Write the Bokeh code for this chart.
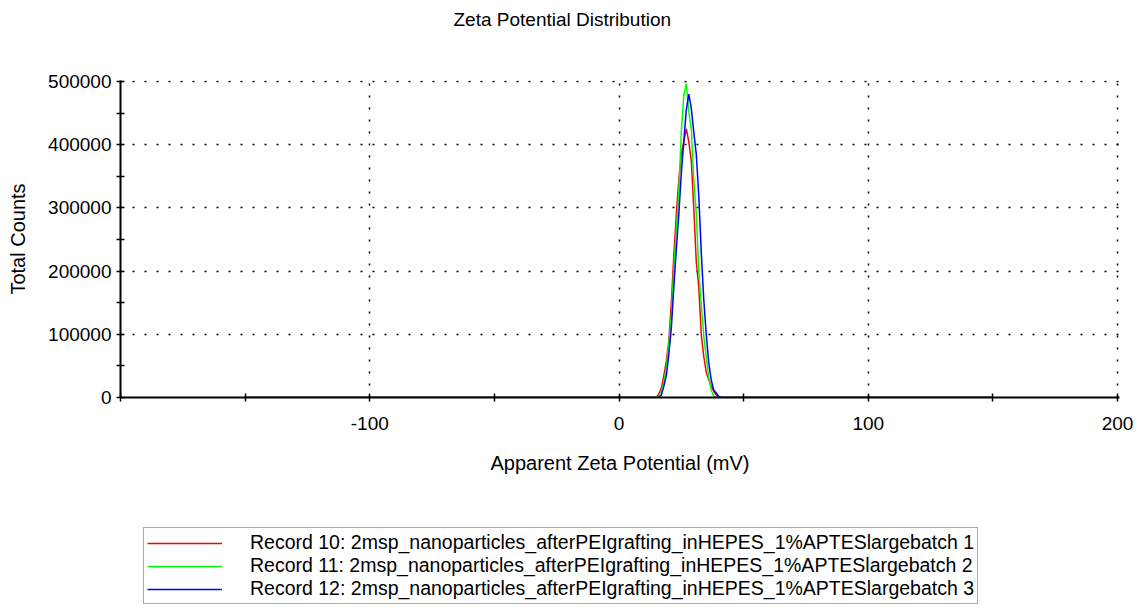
from bokeh.plotting import figure
from bokeh.models import Range1d, FixedTicker, Legend, LegendItem, Title
from bokeh.layouts import column
from bokeh.embed import file_html
from bokeh.resources import INLINE

title_text = "Zeta Potential Distribution"
x_label = "Apparent Zeta Potential (mV)"
y_label = "Total Counts"

x_major = [-200, -100, 0, 100, 200]
x_major_labels = ["", "-100", "0", "100", "200"]
x_minor = [-150, -50, 50, 150]
y_major = [0, 100000, 200000, 300000, 400000, 500000]
y_major_labels = ["0", "100000", "200000", "300000", "400000", "500000"]
y_minor = [50000, 150000, 250000, 350000, 450000]

zeta_mv = [-150, 14, 15, 16, 17, 18, 19, 20, 21, 22, 23, 24, 25, 26, 27, 28,
           29, 30, 31, 32, 33, 34, 35, 36, 37, 38, 39, 40, 41, 42, 150]

record10 = [0, 0, 0, 6000, 15000, 35000, 58000, 90000, 150000, 225000, 290000,
            345000, 385000, 405000, 425000, 405000, 375000, 300000, 215000,
            175000, 100000, 65000, 40000, 28000, 18000, 10000, 4000, 0, 0, 0, 0]
record11 = [0, 0, 0, 2000, 9000, 24000, 48000, 85000, 130000, 205000, 265000,
            325000, 420000, 478000, 497000, 452000, 425000, 345000, 292000,
            200000, 148000, 98000, 64000, 32000, 12000, 2000, 0, 0, 0, 0, 0]
record12 = [0, 0, 0, 0, 4000, 18000, 35000, 68000, 110000, 175000, 235000,
            290000, 355000, 405000, 455000, 480000, 458000, 420000, 385000,
            320000, 230000, 155000, 100000, 55000, 28000, 12000, 7000, 2000, 0, 0, 0]

series_names = [
    "Record 10: 2msp_nanoparticles_afterPEIgrafting_inHEPES_1%APTESlargebatch 1",
    "Record 11: 2msp_nanoparticles_afterPEIgrafting_inHEPES_1%APTESlargebatch 2",
    "Record 12: 2msp_nanoparticles_afterPEIgrafting_inHEPES_1%APTESlargebatch 3",
]
series_values = [record10, record11, record12]
series_colors = ["#FF0000", "#00FF00", "#0000FF"]

FONT = "Liberation Sans"

# ---------------- main chart ----------------
p = figure(width=1143, height=520, output_backend="svg", toolbar_location=None,
           x_range=Range1d(-200, 200.8), y_range=Range1d(0, 501600),
           min_border_left=120, min_border_right=24, min_border_top=80,
           min_border_bottom=123, title=None)
p.outline_line_color = None
p.background_fill_color = "white"
p.border_fill_color = "white"

# spacer (nearest the frame) then the real title above it
p.add_layout(Title(text=" ", text_font_size="44px", standoff=0), "above")
p.add_layout(Title(text=title_text, text_font=FONT, text_font_size="19px",
                   text_font_style="normal", text_color="black",
                   align="left", offset=333, standoff=0), "above")

for ax, maj, mnr, labs in ((p.xaxis[0], x_major, x_minor, x_major_labels),
                           (p.yaxis[0], y_major, y_minor, y_major_labels)):
    ax.ticker = FixedTicker(ticks=maj, minor_ticks=mnr)
    ax.major_label_overrides = {t: s for t, s in zip(maj, labs)}
    ax.axis_line_color = "black"
    ax.axis_line_width = 2
    ax.major_tick_line_color = "black"
    ax.minor_tick_line_color = "black"
    ax.major_tick_line_width = 1.5
    ax.minor_tick_line_width = 1.5
    ax.major_tick_in = 4
    ax.major_tick_out = 4
    ax.minor_tick_in = 4
    ax.minor_tick_out = 4
    ax.major_label_text_font = FONT
    ax.major_label_text_font_size = "19px"
    ax.major_label_text_color = "black"
    ax.axis_label_text_font = FONT
    ax.axis_label_text_font_size = "20px"
    ax.axis_label_text_font_style = "normal"
    ax.axis_label_text_color = "black"

p.xaxis.axis_label = x_label
p.yaxis.axis_label = y_label
p.xaxis.major_label_standoff = 15
p.xaxis.axis_label_standoff = 19
p.yaxis.major_label_standoff = 5
p.yaxis.axis_label_standoff = 16
p.yaxis.major_label_orientation = "horizontal"

for g in (p.xgrid[0], p.ygrid[0]):
    g.grid_line_color = "black"
    g.grid_line_dash = "2 10"
    g.grid_line_width = 1.5
p.xgrid.ticker = FixedTicker(ticks=x_major)
p.ygrid.ticker = FixedTicker(ticks=y_major)

for vals, col in zip(series_values, series_colors):
    p.line(zeta_mv, vals, line_color=col, line_width=1.5)

# ---------------- legend strip (same series, legend only) ----------------
q = figure(width=1143, height=90, output_backend="svg", toolbar_location=None,
           x_range=Range1d(-200, 200), y_range=Range1d(-20, -10),
           min_border=0, x_axis_type=None, y_axis_type=None)
q.outline_line_color = None
q.grid.visible = False
q.background_fill_color = "white"
q.border_fill_color = "white"

items = []
for name, vals, col in zip(series_names, series_values, series_colors):
    r = q.line(zeta_mv, vals, line_color=col, line_width=1.5)
    items.append(LegendItem(label=name, renderers=[r]))

legend = Legend(items=items, location=(23, 6))
legend.label_text_font = FONT
legend.label_text_font_size = "19.5px"
legend.label_text_color = "black"
legend.glyph_width = 75
legend.glyph_height = 20
legend.label_height = 20
legend.label_standoff = 28
legend.spacing = 0
legend.padding = 3
legend.margin = 0
legend.border_line_color = "#555555"
legend.border_line_width = 1
legend.background_fill_alpha = 1
q.add_layout(legend)

layout = column(p, q, spacing=0)
open("out.html", "w").write(file_html(layout, INLINE))
